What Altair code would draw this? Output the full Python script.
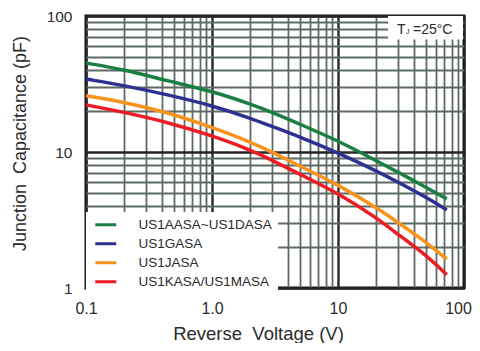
import altair as alt
import pandas as pd

voltage = [0.1, 0.2, 0.44, 1, 2, 3, 5, 10, 20, 30, 50, 73]
green = [45.1, 40.4, 33.4, 28.0, 22.6, 19.6, 16.0, 12.1, 8.65, 7.1, 5.5, 4.52]
blue = [34.4, 30.9, 26.4, 22.0, 17.8, 15.4, 12.9, 9.86, 7.3, 6.0, 4.65, 3.75]
orange = [25.9, 23.3, 19.6, 15.2, 11.9, 10.0, 7.85, 5.75, 3.92, 3.03, 2.18, 1.63]
red = [22.2, 19.6, 16.6, 13.2, 10.4, 8.7, 6.85, 4.98, 3.31, 2.47, 1.75, 1.25]

series_names = ["US1AASA~US1DASA", "US1GASA", "US1JASA", "US1KASA/US1MASA"]
series_vals = [green, blue, orange, red]
colors = ["#1b7f43", "#2e3192", "#f7941d", "#ed1c24"]

rows = []
for name, vals in zip(series_names, series_vals):
    for v, c in zip(voltage, vals):
        rows.append({"V": v, "C": c, "series": name})
df = pd.DataFrame(rows)

x_ticks = [0.1, 0.2, 0.3, 0.4, 0.5, 0.6, 0.7, 0.8, 0.9,
           1, 2, 3, 4, 5, 6, 7, 8, 9,
           10, 20, 30, 40, 50, 60, 70, 80, 90, 100]
y_ticks = [1, 2, 3, 4, 5, 6, 7, 8, 9,
           10, 20, 30, 40, 50, 60, 70, 80, 90, 100]

FONT = "Liberation Sans"
TXT = "#2b2b2b"
major_x = "indexof([0.1, 1, 10, 100], datum.value) >= 0"
major_y = "indexof([1, 10, 100], datum.value) >= 0"

lines = alt.Chart(df).mark_line(strokeWidth=3.5, interpolate="basis").encode(
    x=alt.X("V:Q",
            scale=alt.Scale(type="log", domain=[0.1, 100], nice=False),
            axis=alt.Axis(
                values=x_ticks,
                labelExpr="datum.value == 0.1 ? '0.1' : datum.value == 1 ? '1.0' : datum.value == 10 ? '10' : datum.value == 100 ? '100' : ''",
                labelOverlap=False, labelFlush=False,
                labelOffset=alt.condition("datum.value == 100", alt.value(-6), alt.value(0)),
                ticks=False, domain=False,
                labelFont=FONT, labelFontSize=16, labelColor=TXT, labelPadding=12,
                gridColor=alt.condition(major_x, alt.value("#262626"), alt.value("#5f6a65")),
                gridWidth=alt.condition(major_x, alt.value(2.4), alt.value(1.8)),
                title="Reverse\u00a0 Voltage (V)",
                titleFont=FONT, titleFontSize=18.5, titleFontWeight="normal", titleColor=TXT,
                titleX=172, titleY=51, titleBaseline="alphabetic",
            )),
    y=alt.Y("C:Q",
            scale=alt.Scale(type="log", domain=[1, 100], nice=False),
            axis=alt.Axis(
                values=y_ticks,
                labelExpr="datum.value == 1 ? '1' : datum.value == 10 ? '10' : datum.value == 100 ? '100' : ''",
                labelOverlap=False, labelFlush=False,
                ticks=False, domain=False,
                labelFont=FONT, labelFontSize=15.5, labelColor=TXT, labelPadding=14,
                gridColor=alt.condition(major_y, alt.value("#262626"), alt.value("#5f6a65")),
                gridWidth=alt.condition(major_y, alt.value(2.4), alt.value(1.8)),
                title="Junction\u00a0 Capacitance (pF)",
                titleFont=FONT, titleFontSize=18, titleFontWeight="normal", titleColor=TXT,
                titleX=-61, titleY=127, titleBaseline="alphabetic",
            )),
    color=alt.Color("series:N",
                    scale=alt.Scale(domain=series_names, range=colors),
                    legend=alt.Legend(
                        orient="none", legendX=0, legendY=196,
                        title=None,
                        fillColor="white", padding=6,
                        symbolType="M-1,0H5", symbolSize=49, symbolStrokeWidth=3,
                        labelFont=FONT, labelFontSize=13.5, labelColor=TXT,
                        labelOffset=33, rowPadding=4,
                        labelLimit=300,
                    )),
)

tj_box = alt.Chart(pd.DataFrame({"a": [0]})).mark_rect(color="white").encode(
    x=alt.value(302), x2=alt.value(377), y=alt.value(0), y2=alt.value(23.5)
)
tj_T = alt.Chart(pd.DataFrame({"t": ["T"]})).mark_text(
    font=FONT, fontSize=14, color=TXT, align="left", baseline="alphabetic"
).encode(text="t:N", x=alt.value(311), y=alt.value(18))
tj_J = alt.Chart(pd.DataFrame({"t": ["J"]})).mark_text(
    font=FONT, fontSize=7, color=TXT, align="left", baseline="alphabetic"
).encode(text="t:N", x=alt.value(320), y=alt.value(17.5))
tj_rest = alt.Chart(pd.DataFrame({"t": ["=25°C"]})).mark_text(
    font=FONT, fontSize=14, color=TXT, align="left", baseline="alphabetic"
).encode(text="t:N", x=alt.value(327), y=alt.value(18))

chart = alt.layer(lines, tj_box, tj_T, tj_J, tj_rest).properties(
    width=378, height=272,
    autosize=alt.AutoSizeParams(type="none"),
    padding={"left": 78, "top": 8, "right": 8, "bottom": 55},
).configure_view(stroke="#111111", strokeWidth=3)

chart.save("out.html", embed_options={"renderer": "svg", "actions": False})
